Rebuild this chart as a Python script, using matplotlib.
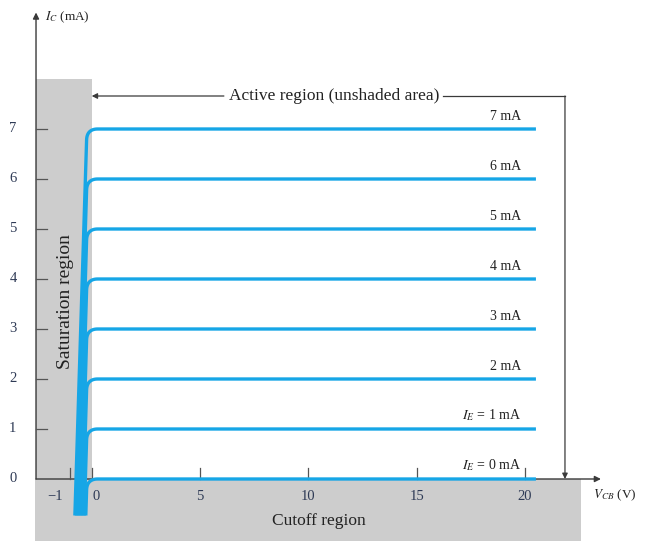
import numpy as np
import matplotlib.pyplot as plt
from matplotlib.patches import Rectangle

plt.rcParams['font.family'] = ['Liberation Serif', 'DejaVu Serif']
plt.rcParams['mathtext.fontset'] = 'stix'

# emitter current levels (mA) and their curve labels
ie_levels = [0, 1, 2, 3, 4, 5, 6, 7]
ie_labels = [r'$I_E$ = 0 mA', r'$I_E$ = 1 mA', '2 mA', '3 mA', '4 mA', '5 mA', '6 mA', '7 mA']
x_ticks = [-1, 0, 5, 10, 15, 20]
x_tick_labels = ['\u22121', '0', '5', '10', '15', '20']
y_ticks = [0, 1, 2, 3, 4, 5, 6, 7]

CURVE_COLOR = '#16A6E6'
SHADE = '#CDCDCD'
AXIS_COLOR = '#3A3A3A'
TICK_TEXT = '#2E3A55'

V_KNEE = -0.22      # where the curves turn flat
V_END = 20.5
V_MIN_I = -0.73     # bottom of the rising part
SLANT = 0.072       # V per mA of the rising part
Y_AX = -2.57        # position of the vertical axis

fig = plt.figure(figsize=(6.51, 5.41), dpi=100)
fig.patch.set_facecolor('white')
ax = fig.add_axes([0, 0, 1, 1])
ax.set_xlim(-4.232, 25.81)
ax.set_ylim(-1.24, 9.58)
ax.axis('off')

# shaded saturation and cutoff regions
ax.add_patch(Rectangle((Y_AX, 0), 0 - Y_AX, 8.0, color=SHADE, lw=0, zorder=0))
ax.add_patch(Rectangle((Y_AX - 0.05, -1.24), 22.6 - Y_AX + 0.05, 1.24, color=SHADE, lw=0, zorder=0))

# common-base output curves
for ie in ie_levels:
    ry, rx = 0.22, 0.5
    ys = np.linspace(V_MIN_I, ie - ry, 30)
    xs = V_KNEE - SLANT * (ie - ys)
    t = np.linspace(0, 1, 30)
    p0 = np.array([xs[-1], ie - ry])
    p1 = np.array([V_KNEE, ie])
    p2 = np.array([V_KNEE + rx, ie])
    bez = ((1 - t) ** 2)[:, None] * p0 + (2 * (1 - t) * t)[:, None] * p1 + (t ** 2)[:, None] * p2
    cx = np.concatenate([xs, bez[:, 0], [V_END]])
    cy = np.concatenate([ys, bez[:, 1], [ie]])
    ax.plot(cx, cy, color=CURVE_COLOR, lw=2.4, solid_capstyle='butt', zorder=3)

for ie, lab in zip(ie_levels, ie_labels):
    ax.text(19.8, ie + 0.12, lab, ha='right', va='bottom', fontsize=10,
            color='#222222', zorder=4)

# axes with arrows
ax.annotate('', xy=(23.5, 0), xytext=(Y_AX, 0),
            arrowprops=dict(arrowstyle='-|>', lw=1.0, color=AXIS_COLOR, mutation_scale=9,
                            shrinkA=0, shrinkB=0), zorder=2)
ax.annotate('', xy=(Y_AX, 9.33), xytext=(Y_AX, 0),
            arrowprops=dict(arrowstyle='-|>', lw=1.0, color=AXIS_COLOR, mutation_scale=9,
                            shrinkA=0, shrinkB=0), zorder=2)

# ticks pointing inward
for xt, lab in zip(x_ticks, x_tick_labels):
    ax.plot([xt, xt], [0, 0.22], color='#555555', lw=0.9, zorder=2)
    dx = -0.69 if xt < 0 else (0.22 if xt == 0 else 0)
    ax.text(xt + dx, -0.36, lab, ha='center', va='center', fontsize=10.5, color=TICK_TEXT)
for yt in y_ticks:
    if yt > 0:
        ax.plot([Y_AX, Y_AX + 0.5], [yt, yt], color='#555555', lw=0.9, zorder=2)
    ax.text(Y_AX - 0.9, yt, str(yt), ha='right', va='center', fontsize=10.5, color=TICK_TEXT)

# axis titles
ax.text(Y_AX + 0.4, 9.24, r'$I_C$ (mA)', ha='left', va='center', fontsize=9.5, color='#222222')
ax.text(23.15, -0.32, r'$V_{CB}$ (V)', ha='left', va='center', fontsize=9.5, color='#222222')

# region labels
ax.text(-1.2, 3.54, 'Saturation region', rotation=90, ha='center', va='center',
        fontsize=14, color='#222222')
ax.text(10.5, -0.84, 'Cutoff region', ha='center', va='center', fontsize=12.5, color='#222222')

# active region marker
y_act = 7.66
ax.text(11.2, y_act, 'Active region (unshaded area)', ha='center', va='center',
        fontsize=12.5, color='#222222')
ax.annotate('', xy=(0.0, y_act), xytext=(6.1, y_act),
            arrowprops=dict(arrowstyle='-|>', lw=0.9, color=AXIS_COLOR, mutation_scale=8,
                            shrinkA=0, shrinkB=0))
ax.plot([16.2, 21.84], [y_act, y_act], color=AXIS_COLOR, lw=0.9)
ax.annotate('', xy=(21.84, 0.0), xytext=(21.84, y_act),
            arrowprops=dict(arrowstyle='-|>', lw=0.9, color=AXIS_COLOR, mutation_scale=8,
                            shrinkA=0, shrinkB=0))

fig.savefig('out.png', dpi=100)
